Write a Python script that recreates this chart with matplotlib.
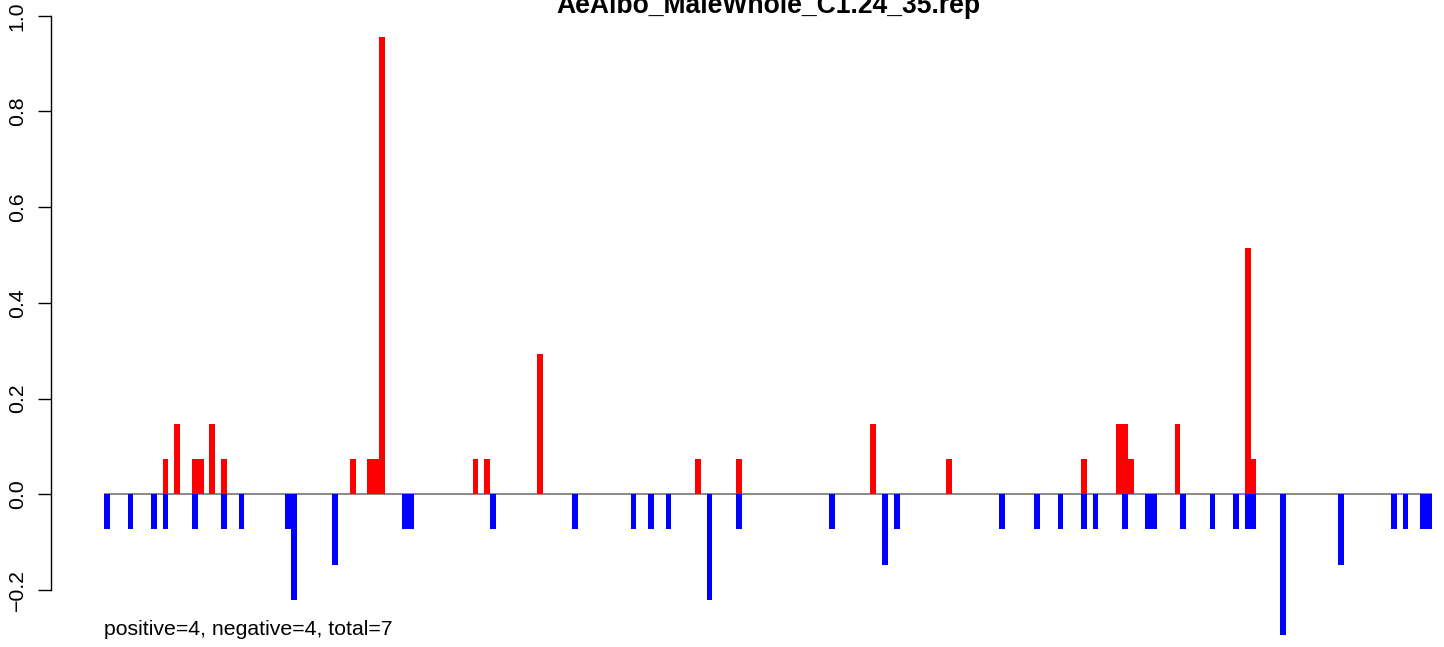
import matplotlib
matplotlib.use("Agg")
import matplotlib.pyplot as plt

title = "AeAlbo_MaleWhole_C1.24_35.rep"
note = "positive=4, negative=4, total=7"
n_bins = 227

pos_bins = [10, 12, 15, 16, 18, 20, 42, 45, 46, 47, 63, 65, 74, 101, 108,
            131, 144, 167, 173, 174, 175, 183, 195, 196]
pos_vals = [0.0735, 0.147, 0.0735, 0.0735, 0.147, 0.0735, 0.0735, 0.0735, 0.0735, 0.956,
            0.0735, 0.0735, 0.294, 0.0735, 0.0735,
            0.147, 0.0735, 0.0735, 0.147, 0.147, 0.0735, 0.147, 0.5145, 0.0735]

neg_bins = [0, 4, 8, 10, 15, 20, 23, 31, 32, 39, 51, 52, 66, 80, 90, 93, 96, 103, 108,
            124, 133, 135, 153, 159, 163, 167, 169, 174, 178, 179, 184, 189, 193,
            195, 196, 201, 211, 220, 222, 225, 226]
neg_vals = [-0.0735, -0.0735, -0.0735, -0.0735, -0.0735, -0.0735, -0.0735, -0.0735, -0.2205,
            -0.147, -0.0735, -0.0735, -0.0735, -0.0735, -0.0735, -0.0735, -0.0735, -0.2205,
            -0.0735, -0.0735, -0.147, -0.0735, -0.0735, -0.0735, -0.0735, -0.0735, -0.0735,
            -0.0735, -0.0735, -0.0735, -0.0735, -0.0735, -0.0735, -0.0735, -0.0735, -0.294,
            -0.147, -0.0735, -0.0735, -0.0735, -0.0735]

yticks = [-0.2, 0.0, 0.2, 0.4, 0.6, 0.8, 1.0]
ytick_labels = ["\u22120.2", "0.0", "0.2", "0.4", "0.6", "0.8", "1.0"]

plt.rcParams['font.family'] = ['Liberation Sans', 'DejaVu Sans']

W, H = 1444, 647
fig = plt.figure(figsize=(W / 100, H / 100), dpi=100)

# plot region goes past the right/bottom edge like the cropped original
ymin, ymax = -0.344, 1.006
ppu = 478.5
top_px = 494.3 - ymax * ppu
bot_px = 494.3 - ymin * ppu
ax = fig.add_axes([51 / W, 1 - bot_px / H, 1434 / W, (bot_px - top_px) / H])
ax.set_xlim(-0.04 * n_bins, n_bins * 1.04)
ax.set_ylim(ymin, ymax)

ax.hlines(0, 0, n_bins, color="#808080", lw=1.3, zorder=1)
ax.bar(pos_bins, pos_vals, width=1, align="edge", color="#FF0000", lw=0, zorder=2)
ax.bar(neg_bins, neg_vals, width=1, align="edge", color="#0000FF", lw=0, zorder=2)

for s in ["top", "right", "bottom"]:
    ax.spines[s].set_visible(False)
ax.spines["left"].set_bounds(-0.2, 1.0)
ax.spines["left"].set_linewidth(1)
ax.set_xticks([])
ax.set_yticks(yticks)
ax.set_yticklabels(ytick_labels, rotation=90, va="center")
ax.tick_params(axis="y", length=9.4, width=1, pad=8, labelsize=15.3)

fig.text(768 / W, 1 - 13 / H, title, ha="center", va="baseline",
         fontsize=19.1, fontweight="bold")
fig.text(104 / W, 1 - 635 / H, note, ha="left", va="baseline", fontsize=15.3)

fig.savefig("out.png", dpi=100)
